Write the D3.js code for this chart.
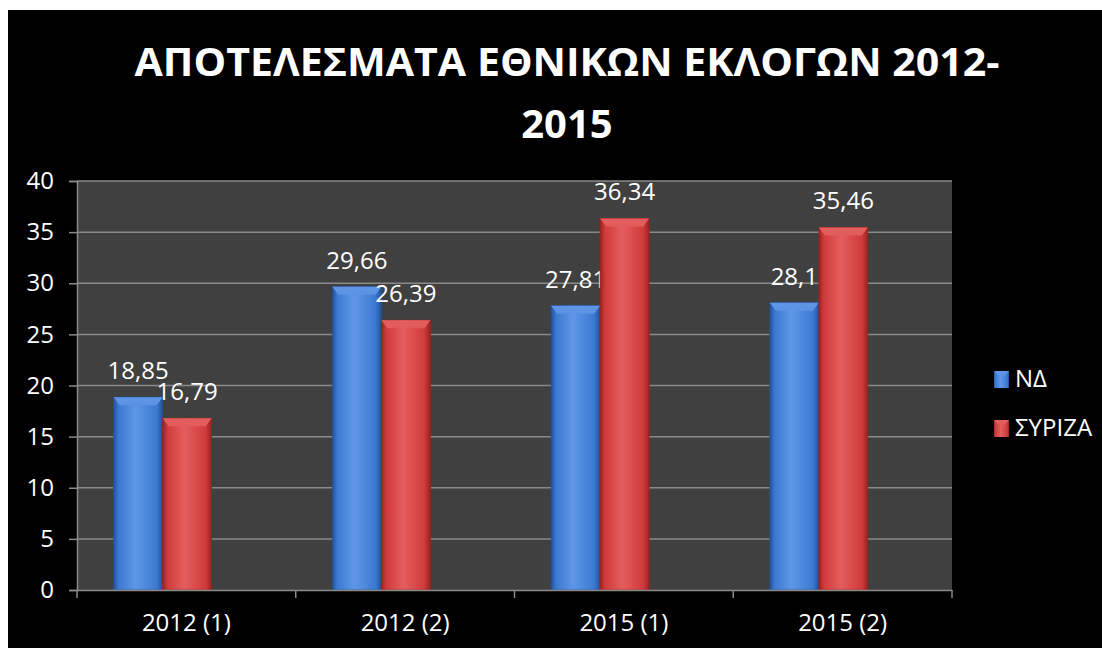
<!DOCTYPE html>
<html><head><meta charset="utf-8">
<script src="https://cdn.jsdelivr.net/npm/d3@7"></script>
<style>body{margin:0;background:#fff}svg{display:block}</style></head>
<body>
<svg id="c" width="1102" height="648"></svg>
<script>
const categories = ["2012 (1)", "2012 (2)", "2015 (1)", "2015 (2)"];
const seriesNames = ["ΝΔ", "ΣΥΡΙΖΑ"];
const ndValues = [18.85, 29.66, 27.81, 28.1];
const syrizaValues = [16.79, 26.39, 36.34, 35.46];
const yTicks = [0, 5, 10, 15, 20, 25, 30, 35, 40];
const titleLines = ["ΑΠΟΤΕΛΕΣΜΑΤΑ ΕΘΝΙΚΩΝ ΕΚΛΟΓΩΝ 2012-", "2015"];

const FONT = "'Open Sans', 'Noto Sans', sans-serif";
const svg = d3.select("#c");
const W = 1102, H = 648;
const plot = {left: 77, right: 952, top: 181, bottom: 590};

const colors = {
  "ΝΔ": {main: "#3b79d1", light: "#5f97e6", dark: "#22529a", top: "#5b93e2"},
  "ΣΥΡΙΖΑ": {main: "#d03a3a", light: "#e45e5e", dark: "#9a2222", top: "#e25c5c"}
};

const defs = svg.append("defs");
seriesNames.forEach((s, i) => {
  const c = colors[s];
  const g = defs.append("linearGradient").attr("id", "g" + i).attr("x1", 0).attr("x2", 1).attr("y1", 0).attr("y2", 0);
  g.append("stop").attr("offset", 0).attr("stop-color", c.dark);
  g.append("stop").attr("offset", 0.1).attr("stop-color", c.main);
  g.append("stop").attr("offset", 0.45).attr("stop-color", c.light);
  g.append("stop").attr("offset", 0.88).attr("stop-color", c.main);
  g.append("stop").attr("offset", 1).attr("stop-color", c.dark);
  const t = defs.append("linearGradient").attr("id", "t" + i).attr("x1", 0).attr("x2", 0).attr("y1", 0).attr("y2", 1);
  t.append("stop").attr("offset", 0).attr("stop-color", c.light);
  t.append("stop").attr("offset", 1).attr("stop-color", c.top);
});

// background
svg.append("rect").attr("x", 8).attr("y", 10).attr("width", W - 8).attr("height", H - 10).attr("fill", "#000");

// title
const title = svg.append("g").attr("font-family", FONT).attr("font-weight", "bold").attr("fill", "#fff").attr("text-anchor", "middle");
const t1 = title.append("text").attr("x", 567).attr("y", 76).attr("font-size", 40).text(titleLines[0]);
const w1 = t1.node().getComputedTextLength();
if (Math.abs(w1 - 865) > 10) t1.attr("textLength", 865).attr("lengthAdjust", "spacingAndGlyphs");
title.append("text").attr("x", 567).attr("y", 138).attr("font-size", 40).text(titleLines[1]);

// scales
const y = d3.scaleLinear().domain([0, 40]).range([plot.bottom, plot.top]);
const x0 = d3.scaleBand().domain(categories).range([plot.left, plot.right]).padding(0);
const x1 = d3.scaleBand().domain(seriesNames).range([36.6, 134.6]).padding(0);

// plot background
svg.append("rect").attr("x", plot.left).attr("y", plot.top).attr("width", plot.right - plot.left).attr("height", plot.bottom - plot.top).attr("fill", "#404040");

// gridlines
svg.append("g").selectAll("line").data(yTicks.filter(d => d > 0)).join("line")
  .attr("x1", plot.left).attr("x2", plot.right)
  .attr("y1", d => y(d)).attr("y2", d => y(d))
  .attr("stroke", "#8a8a8a").attr("stroke-width", 1.5);

// y axis
const yAxis = svg.append("g").attr("transform", `translate(${plot.left},0)`)
  .call(d3.axisLeft(y).tickValues(yTicks).tickSize(8).tickPadding(15).tickFormat(d3.format("d")));
yAxis.select(".domain").attr("stroke", "#8a8a8a").attr("stroke-width", 1.5);
yAxis.selectAll(".tick line").attr("stroke", "#8a8a8a").attr("stroke-width", 1.5);
yAxis.selectAll(".tick text").attr("fill", "#fff").attr("font-size", 24).attr("font-family", FONT);

// bars
const data = categories.map((c, i) => ({cat: c, vals: [ndValues[i], syrizaValues[i]]}));
const groups = svg.append("g").selectAll("g").data(data).join("g")
  .attr("transform", d => `translate(${x0(d.cat)},0)`);
groups.each(function(d) {
  const g = d3.select(this);
  d.vals.forEach((v, si) => {
    const s = seriesNames[si];
    const bx = x1(s), bw = x1.bandwidth(), by = y(v), bh = y(0) - y(v);
    g.append("rect").attr("x", bx).attr("y", by).attr("width", bw).attr("height", bh)
      .attr("fill", `url(#g${si})`).attr("stroke", colors[s].dark).attr("stroke-width", 0.8);
    const b = 6, bt = 8;
    g.append("path").attr("d", `M${bx},${by}L${bx + bw},${by}L${bx + bw - b},${by + bt}L${bx + b},${by + bt}Z`)
      .attr("fill", `url(#t${si})`);
    g.append("text").attr("x", bx + bw / 2).attr("y", by - 18)
      .attr("text-anchor", "middle").attr("fill", "#fff").attr("font-size", 24).attr("font-family", FONT)
      .text(String(v).replace(".", ","));
  });
});

// x axis
const xAxis = svg.append("g").attr("transform", `translate(0,${plot.bottom})`)
  .call(d3.axisBottom(x0).tickSize(0).tickPadding(24));
xAxis.select(".domain").attr("stroke", "#8a8a8a").attr("stroke-width", 1.5);
xAxis.selectAll(".tick text").attr("fill", "#fff").attr("font-size", 24).attr("font-family", FONT);
const bounds = categories.map(c => x0(c)).concat([plot.right]);
svg.append("g").selectAll("line").data(bounds).join("line")
  .attr("x1", d => d).attr("x2", d => d).attr("y1", plot.bottom).attr("y2", plot.bottom + 8)
  .attr("stroke", "#8a8a8a").attr("stroke-width", 1.5);

// legend
const legY = [387, 436];
const leg = svg.append("g").selectAll("g").data(seriesNames).join("g");
leg.append("rect").attr("x", 994).attr("y", (d, i) => legY[i] - 16).attr("width", 15).attr("height", 17)
  .attr("fill", (d, i) => `url(#g${i})`);
leg.append("path").attr("d", (d, i) => { const yy = legY[i] - 16; return `M994,${yy}L1009,${yy}L1004,${yy + 5}L999,${yy + 5}Z`; })
  .attr("fill", (d, i) => `url(#t${i})`);
leg.append("text").attr("x", 1015).attr("y", (d, i) => legY[i]).attr("fill", "#fff")
  .attr("font-size", 24).attr("font-family", FONT).text(d => d);
</script>
</body></html>
